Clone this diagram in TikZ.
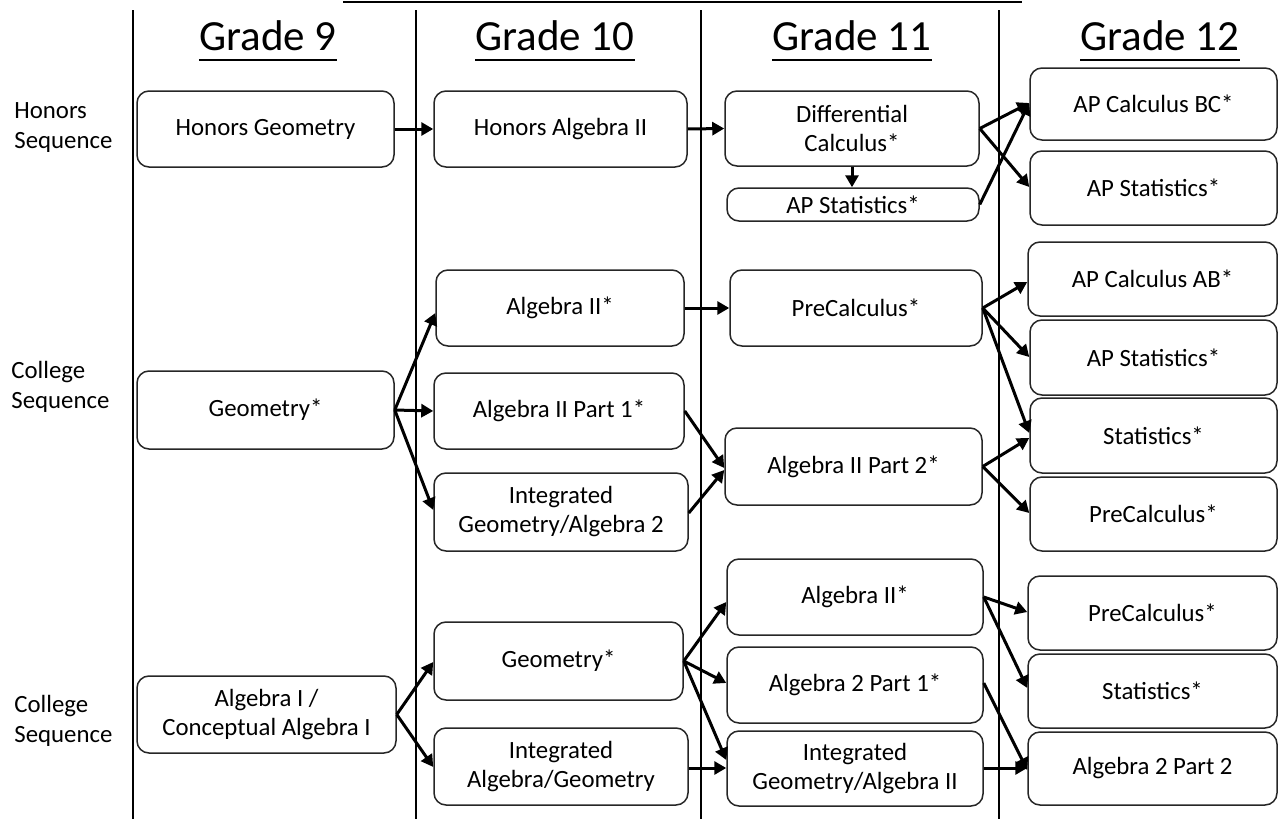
\documentclass[tikz,border=0pt]{standalone}
\usepackage{fontspec}
\setmainfont{Carlito}
\usetikzlibrary{arrows.meta}
\newcommand\bx[6]{\node[box, minimum width={(#4-#2)*0.5pt}, minimum height={(#5-#3)*0.5pt}] (#1) at ({(#2+#4)/2},{(#3+#5)/2}) {#6};}
\begin{document}
\begin{tikzpicture}[x=0.5pt,y=-0.5pt,
  box/.style={draw=black!85, line width=0.75pt, rounded corners=6pt, inner sep=0pt,
    align=center, font=\fontsize{12.4}{14.5}\selectfont},
  arr/.style={-{Triangle[length=6pt,width=6.5pt]}, line width=1.5pt},
  grade/.style={anchor=base, inner sep=0pt, font=\fontsize{21.5}{24}\selectfont},
  seq/.style={anchor=west, align=left, inner sep=0pt, font=\fontsize{12.4}{15}\selectfont},
  rule/.style={line width=0.8pt}]
\useasboundingbox (0,0) rectangle (1280,819);
% frame lines
\draw[rule] (343,2) -- (1022,2);
\foreach \x in {133,416,701,999} \draw[rule] (\x,10) -- (\x,819);
% headers
\node[grade] (g9) at (268,50) {Grade 9};
\node[grade] (g10) at (555,50) {Grade 10};
\node[grade] (g11) at (852,50) {Grade 11};
\node[grade] (g12) at (1160,50) {Grade 12};
\foreach \g in {g9,g10,g11,g12}
  \draw[line width=0.8pt] ([yshift=-5pt]\g.base west) -- ([yshift=-5pt]\g.base east);
% row labels
\node[seq] (s1) at (14,128) {Honors\\Sequence};
\node[seq] (s2) at (11,387) {College\\Sequence};
\node[seq] (s3) at (14,721) {College\\Sequence};
% honors
\bx{hg}{137}{91}{394}{167}{Honors Geometry}
\bx{ha2}{434}{91}{687}{167}{Honors Algebra II}
\bx{dc}{725}{91}{979}{166}{Differential\\Calculus*}
\bx{aps11}{727}{188}{979}{221}{AP Statistics*}
\bx{bc}{1030}{68}{1277}{140}{AP Calculus BC*}
\bx{aps12}{1030}{151}{1277}{225}{AP Statistics*}
% college 1
\bx{a2c}{436}{270}{684}{346}{Algebra II*}
\bx{pc11}{730}{270}{982}{346}{PreCalculus*}
\bx{geo9}{137}{371}{394}{449}{Geometry*}
\bx{a2p1}{434}{373}{684}{449}{Algebra II Part 1*}
\bx{iga2}{434}{473}{688}{551}{Integrated\\Geometry/Algebra 2}
\bx{a2p2}{725}{428}{982}{505}{Algebra II Part 2*}
\bx{ab}{1028}{242}{1277}{316}{AP Calculus AB*}
\bx{aps}{1030}{320}{1277}{395}{AP Statistics*}
\bx{st}{1030}{398}{1277}{473}{Statistics*}
\bx{pc12}{1030}{477}{1277}{551}{PreCalculus*}
% college 2
\bx{a1}{137}{676}{396}{753}{Algebra I /\\Conceptual Algebra I}
\bx{geo10}{434}{622}{683}{700}{Geometry*}
\bx{iag}{434}{728}{688}{805}{Integrated\\Algebra/Geometry}
\bx{a2b}{727}{559}{983}{635}{Algebra II*}
\bx{a2p1b}{727}{647}{983}{723}{Algebra 2 Part 1*}
\bx{igaii}{727}{731}{983}{806}{Integrated\\Geometry/Algebra II}
\bx{pcb}{1028}{576}{1277}{650}{PreCalculus*}
\bx{stb}{1028}{654}{1277}{728}{Statistics*}
\bx{a2p2b}{1028}{732}{1277}{805}{Algebra 2 Part 2}
% honors arrows
\draw[arr] (hg.east) -- (ha2.west);
\draw[arr] (ha2.east) -- (dc.west);
\draw[arr] (dc.south) -- (dc.south |- aps11.north);
\draw[arr] (dc.east) -- (bc.west |- 0,103);
\draw[arr] (dc.east) -- (aps12.west |- 0,187);
\draw[arr] (aps11.east) -- (bc.west |- 0,103);
% college 1 arrows
\draw[arr] (geo9.east) -- (a2c.west |- 0,313);
\draw[arr] (geo9.east) -- (a2p1.west);
\draw[arr] (geo9.east) -- (iga2.west |- 0,510);
\draw[arr] (a2c.east) -- (pc11.west);
\draw[arr] (a2p1.east) -- (a2p2.west |- 0,468);
\draw[arr] (iga2.east |- 0,513) -- (a2p2.west |- 0,470);
\draw[arr] (pc11.east) -- (ab.west |- 0,282);
\draw[arr] (pc11.east) -- (aps.west |- 0,357);
\draw[arr] (pc11.east) -- (st.west |- 0,433);
\draw[arr] (a2p2.east) -- (st.west |- 0,438);
\draw[arr] (a2p2.east) -- (pc12.west |- 0,513);
% college 2 arrows
\draw[arr] (a1.east) -- (geo10.west |- 0,662);
\draw[arr] (a1.east) -- (iag.west |- 0,767);
\draw[arr] (geo10.east) -- (a2b.west |- 0,602);
\draw[arr] (geo10.east) -- (a2p1b.west |- 0,683);
\draw[arr] (geo10.east) -- (igaii.west |- 0,760);
\draw[arr] (iag.east |- 0,768) -- (igaii.west |- 0,768);
\draw[arr] (a2b.east) -- (pcb.west |- 0,612);
\draw[arr] (a2b.east) -- (stb.west |- 0,688);
\draw[arr] (a2p1b.east |- 0,683) -- (a2p2b.west |- 0,770);
\draw[arr] (igaii.east |- 0,768) -- (a2p2b.west |- 0,768);
\end{tikzpicture}
\end{document}
